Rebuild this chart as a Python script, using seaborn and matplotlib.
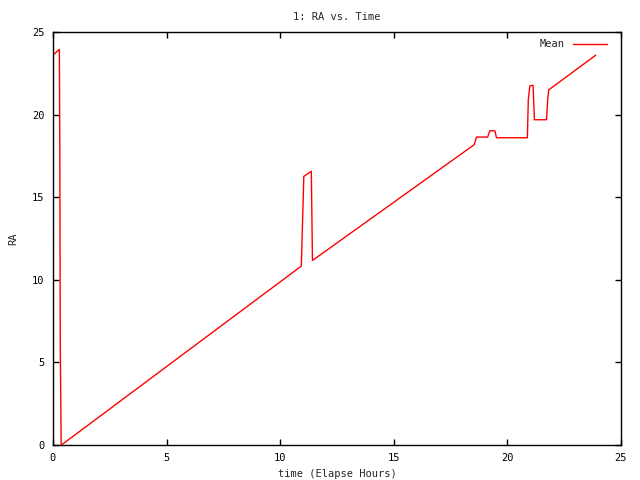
import pandas as pd
import seaborn as sns
import matplotlib
matplotlib.use("Agg")
import matplotlib.pyplot as plt

# breakpoints of the RA trace
time_hours = [0.0, 0.28, 0.30, 0.32, 0.36, 0.37, 10.93, 11.04, 11.37, 11.42,
              18.54, 18.64, 19.13, 19.23, 19.45, 19.52, 20.88, 20.92, 20.99,
              21.13, 21.19, 21.72, 21.78, 21.82, 23.89]
ra_values = [23.6, 23.95, 18.0, 6.1, 0.1, 0.0, 10.83, 16.26, 16.57, 11.17,
             18.18, 18.64, 18.64, 19.02, 19.02, 18.6, 18.6, 20.9, 21.74,
             21.78, 19.69, 19.69, 21.0, 21.5, 23.6]
x_ticks = [0, 5, 10, 15, 20, 25]
y_ticks = [0, 5, 10, 15, 20, 25]


def main():
    sns.set_style("ticks")
    plt.rcParams['font.family'] = ['DejaVu Sans Mono']
    df = pd.DataFrame({"time": time_hours, "RA": ra_values, "series": "Mean"})

    fig = plt.figure(figsize=(6.4, 4.8), dpi=100)
    ax = fig.add_axes([0.0828, 0.0729, 0.8875, 0.8604])
    sns.lineplot(data=df, x="time", y="RA", color="red", linewidth=1.0,
                 estimator=None, sort=False, label="Mean", ax=ax)

    ax.set_xlim(0, 25)
    ax.set_ylim(0, 25)
    ax.set_xticks(x_ticks)
    ax.set_yticks(y_ticks)
    ax.tick_params(direction="in", length=4, width=1, top=True, right=True,
                   labelsize=7.5, pad=6, colors="black")
    for sp in ax.spines.values():
        sp.set_visible(True)
        sp.set_linewidth(1.0)
        sp.set_color("black")
    ax.set_xlabel("time (Elapse Hours)", fontsize=7.5, labelpad=4)
    ax.set_ylabel("RA", fontsize=7.5, labelpad=10)
    ax.set_title("1: RA vs. Time", fontsize=7.5, pad=9)
    ax.legend(loc="upper right", bbox_to_anchor=(0.988, 1.0), frameon=False,
              markerfirst=False, fontsize=7.5, handlelength=3.3,
              borderaxespad=0.3)
    fig.savefig("out.png", dpi=100)
    plt.close()


if __name__ == '__main__':
    main()
